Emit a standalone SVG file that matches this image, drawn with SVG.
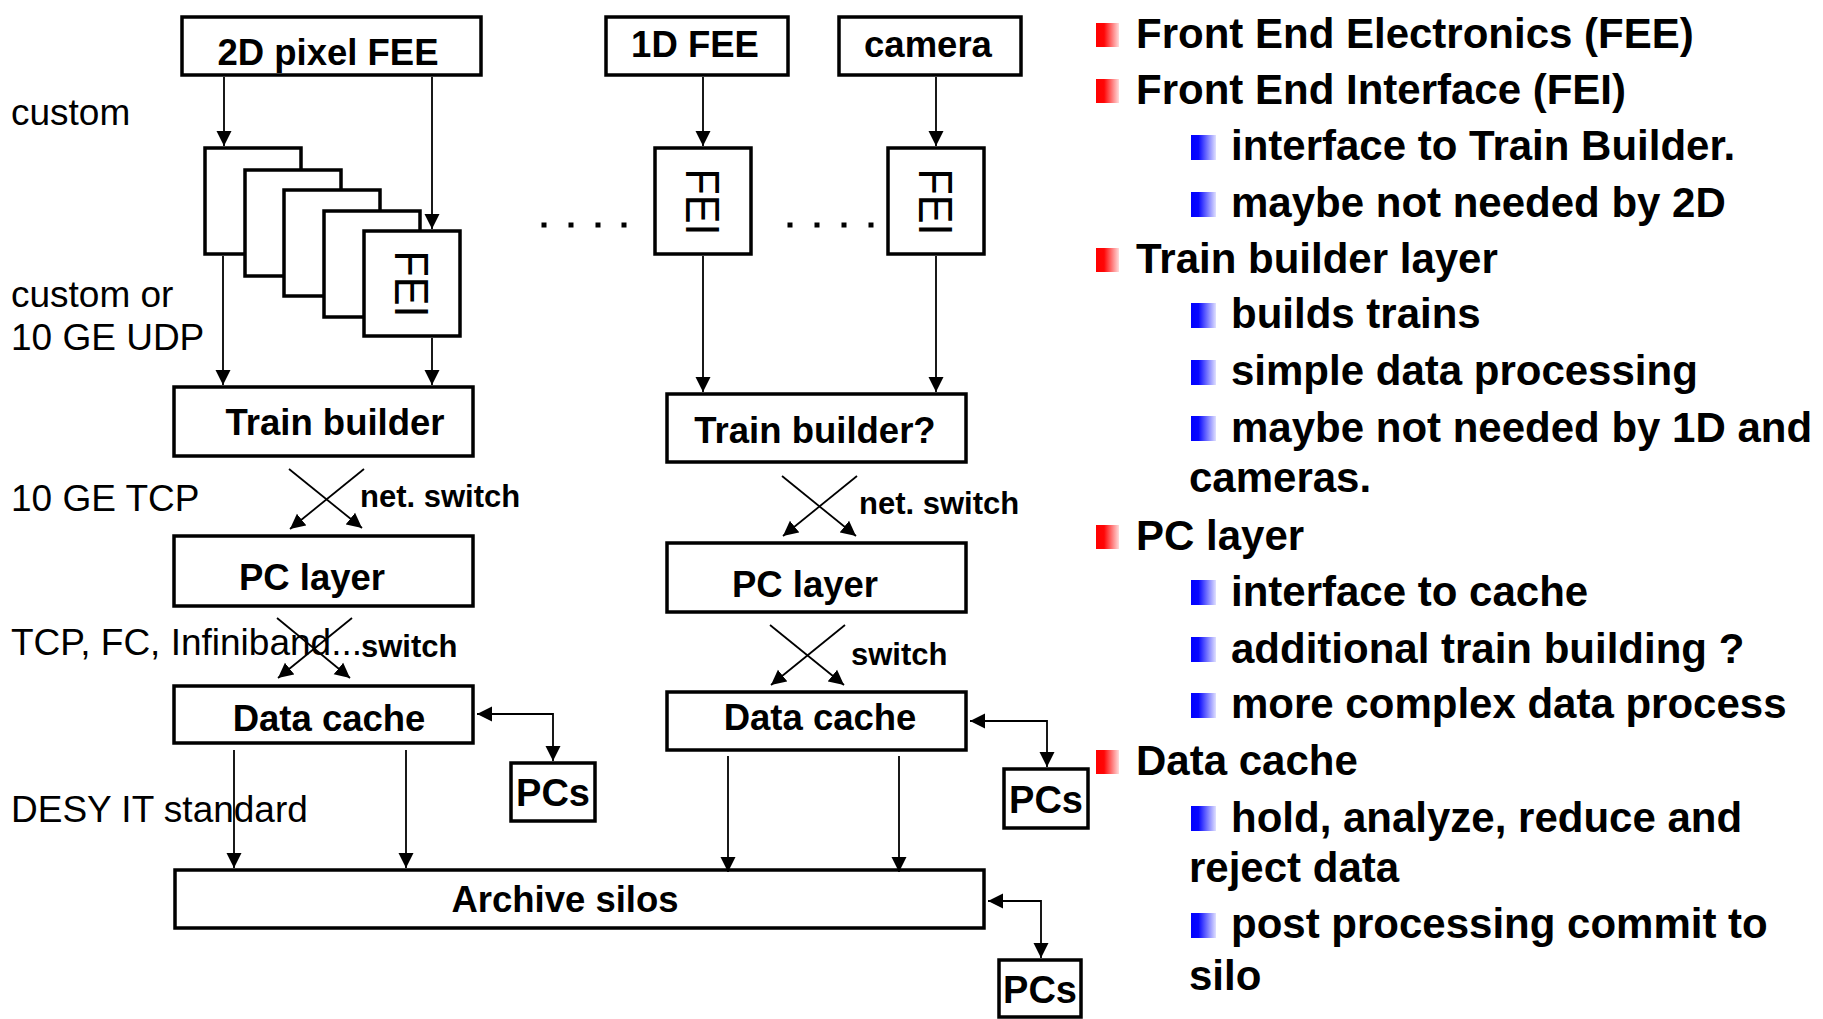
<svg xmlns="http://www.w3.org/2000/svg" width="1823" height="1019" viewBox="0 0 1823 1019">
  <defs>
    <style>
      .box { fill: #fff; stroke: #000; stroke-width: 3.5; }
      .wire { fill: none; stroke: #000; stroke-width: 1.8; }
      .lbl { font-family: "Liberation Sans", Arial, sans-serif; font-weight: bold; font-size: 36.5px; text-anchor: middle; fill: #000; }
      .pcs { font-family: "Liberation Sans", Arial, sans-serif; font-weight: bold; font-size: 38px; text-anchor: middle; fill: #000; }
      .fei { font-family: "Liberation Sans", Arial, sans-serif; font-size: 48px; text-anchor: middle; fill: #000; }
      .sw { font-family: "Liberation Sans", Arial, sans-serif; font-weight: bold; font-size: 31px; fill: #000; }
      .side { font-family: "Liberation Sans", Arial, sans-serif; font-size: 37px; fill: #000; }
      .note { font-family: "Liberation Sans", Arial, sans-serif; font-weight: bold; font-size: 42px; fill: #000; }
      .dot { fill: #000; }
    </style>
    <marker id="ah" viewBox="0 0 15 16" refX="15" refY="8" markerWidth="15" markerHeight="16" markerUnits="userSpaceOnUse" orient="auto-start-reverse">
      <path d="M0,0.5 L15,8 L0,15.5 z" fill="#000"/>
    </marker>
    <linearGradient id="redBullet" x1="0" y1="0" x2="1" y2="0">
      <stop offset="0" stop-color="#ff0000"/>
      <stop offset="0.35" stop-color="#ff0606"/>
      <stop offset="1" stop-color="#ffdcdc"/>
    </linearGradient>
    <linearGradient id="blueBullet" x1="0" y1="0" x2="1" y2="0">
      <stop offset="0" stop-color="#0000ff"/>
      <stop offset="0.3" stop-color="#0808ff"/>
      <stop offset="1" stop-color="#e0e0ff"/>
    </linearGradient>
  </defs>

  <rect x="0" y="0" width="1823" height="1019" fill="#fff"/>

  <!-- protocol labels on the left margin -->
  <g id="side-labels">
    <text class="side" x="11" y="125">custom</text>
    <text class="side" x="11" y="307">custom or</text>
    <text class="side" x="11" y="350">10 GE UDP</text>
    <text class="side" x="11" y="511">10 GE TCP</text>
    <text class="side" x="11" y="655">TCP, FC, Infiniband...</text>
    <text class="side" x="11" y="822">DESY IT standard</text>
  </g>

  <!-- sources -->
  <g id="fee-2d">
    <rect class="box" x="182" y="17" width="299" height="58"/>
    <text class="lbl" x="328" y="65">2D pixel FEE</text>
  </g>
  <g id="fee-1d">
    <rect class="box" x="606" y="17" width="182" height="58"/>
    <text class="lbl" x="695" y="57">1D FEE</text>
  </g>
  <g id="camera">
    <rect class="box" x="839" y="17" width="182" height="58"/>
    <text class="lbl" x="928" y="57">camera</text>
  </g>

  <!-- stacked front end interfaces for the 2D detector -->
  <g id="fei-2d">
    <rect class="box" x="205" y="148" width="96" height="106"/>
    <rect class="box" x="245" y="170" width="96" height="106"/>
    <rect class="box" x="284" y="190" width="96" height="106"/>
    <rect class="box" x="324" y="211" width="96" height="106"/>
    <rect class="box" x="364" y="231" width="96" height="105"/>
    <text class="fei" transform="translate(412,284) rotate(90)" x="0" y="17.2" textLength="67" lengthAdjust="spacingAndGlyphs">FEI</text>
  </g>
  <g id="fei-1d">
    <rect class="box" x="655" y="148" width="96" height="106"/>
    <text class="fei" transform="translate(703,202) rotate(90)" x="0" y="17.2" textLength="67" lengthAdjust="spacingAndGlyphs">FEI</text>
  </g>
  <g id="fei-camera">
    <rect class="box" x="888" y="148" width="96" height="106"/>
    <text class="fei" transform="translate(936,202) rotate(90)" x="0" y="17.2" textLength="67" lengthAdjust="spacingAndGlyphs">FEI</text>
  </g>

  <!-- ellipsis between the detector columns -->
  <g id="ellipsis">
    <rect class="dot" x="541.5" y="222.5" width="5" height="5"/>
    <rect class="dot" x="568.5" y="222.5" width="5" height="5"/>
    <rect class="dot" x="595.5" y="222.5" width="5" height="5"/>
    <rect class="dot" x="621.5" y="222.5" width="5" height="5"/>
    <rect class="dot" x="787.5" y="222.5" width="5" height="5"/>
    <rect class="dot" x="814.5" y="222.5" width="5" height="5"/>
    <rect class="dot" x="841.5" y="222.5" width="5" height="5"/>
    <rect class="dot" x="868.5" y="222.5" width="5" height="5"/>
  </g>

  <!-- train builders -->
  <g id="train-builder">
    <rect class="box" x="174" y="387" width="299" height="69"/>
    <text class="lbl" x="335" y="435">Train builder</text>
  </g>
  <g id="train-builder-q">
    <rect class="box" x="667" y="394" width="299" height="68"/>
    <text class="lbl" x="815" y="443">Train builder?</text>
  </g>

  <!-- PC layers -->
  <g id="pc-layer-left">
    <rect class="box" x="174" y="536" width="299" height="70"/>
    <text class="lbl" x="312" y="590">PC layer</text>
  </g>
  <g id="pc-layer-right">
    <rect class="box" x="667" y="543" width="299" height="69"/>
    <text class="lbl" x="805" y="597">PC layer</text>
  </g>

  <!-- data caches -->
  <g id="data-cache-left">
    <rect class="box" x="174" y="686" width="299" height="57"/>
    <text class="lbl" x="329" y="731">Data cache</text>
  </g>
  <g id="data-cache-right">
    <rect class="box" x="667" y="692" width="299" height="58"/>
    <text class="lbl" x="820" y="730">Data cache</text>
  </g>

  <!-- analysis PCs -->
  <g id="pcs-left">
    <rect class="box" x="511" y="763" width="84" height="58"/>
    <text class="pcs" x="553" y="806">PCs</text>
  </g>
  <g id="pcs-right">
    <rect class="box" x="1004" y="769" width="84" height="59"/>
    <text class="pcs" x="1046" y="813">PCs</text>
  </g>
  <g id="pcs-archive">
    <rect class="box" x="999" y="960" width="82" height="57"/>
    <text class="pcs" x="1040" y="1003">PCs</text>
  </g>

  <!-- archive -->
  <g id="archive-silos">
    <rect class="box" x="175" y="870" width="809" height="58"/>
    <text class="lbl" x="565" y="912">Archive silos</text>
  </g>

  <!-- connectors -->
  <g id="connectors" class="wire" marker-end="url(#ah)">
    <line x1="224" y1="77" x2="224" y2="146"/>
    <line x1="432" y1="77" x2="432" y2="229"/>
    <line x1="223" y1="256" x2="223" y2="385"/>
    <line x1="432" y1="338" x2="432" y2="385"/>
    <line x1="703" y1="77" x2="703" y2="146"/>
    <line x1="936" y1="77" x2="936" y2="146"/>
    <line x1="703" y1="256" x2="703" y2="392"/>
    <line x1="936" y1="256" x2="936" y2="392"/>
    <!-- network switches -->
    <line x1="289" y1="469" x2="362" y2="528"/>
    <line x1="364" y1="469" x2="290" y2="529"/>
    <line x1="277" y1="618" x2="350" y2="678"/>
    <line x1="352" y1="618" x2="278" y2="678"/>
    <line x1="782" y1="476" x2="856" y2="536"/>
    <line x1="857" y1="476" x2="783" y2="536"/>
    <line x1="770" y1="625" x2="844" y2="685"/>
    <line x1="845" y1="625" x2="771" y2="685"/>
    <!-- caches to archive -->
    <line x1="234" y1="750" x2="234" y2="868"/>
    <line x1="406" y1="750" x2="406" y2="868"/>
    <line x1="728" y1="756" x2="728" y2="872"/>
    <line x1="899" y1="756" x2="899" y2="872"/>
    <!-- two-way links to PCs -->
    <path d="M477,714 H553 V761" marker-start="url(#ah)"/>
    <path d="M970,721 H1047 V767" marker-start="url(#ah)"/>
    <path d="M988,901 H1041 V958" marker-start="url(#ah)"/>
  </g>

  <!-- switch labels -->
  <g id="switch-labels">
    <text class="sw" x="360" y="507">net. switch</text>
    <text class="sw" x="361" y="657">switch</text>
    <text class="sw" x="859" y="514">net. switch</text>
    <text class="sw" x="851" y="665">switch</text>
  </g>

  <!-- bullet list -->
  <g id="notes">
    <rect x="1096" y="23" width="23" height="24" fill="url(#redBullet)"/>
    <text class="note" x="1136" y="48">Front End Electronics (FEE)</text>
    <rect x="1096" y="79" width="23" height="24" fill="url(#redBullet)"/>
    <text class="note" x="1136" y="104">Front End Interface (FEI)</text>
    <rect x="1191" y="135" width="25" height="25" fill="url(#blueBullet)"/>
    <text class="note" x="1231" y="160">interface to Train Builder.</text>
    <rect x="1191" y="192" width="25" height="25" fill="url(#blueBullet)"/>
    <text class="note" x="1231" y="217">maybe not needed by 2D</text>
    <rect x="1096" y="248" width="23" height="24" fill="url(#redBullet)"/>
    <text class="note" x="1136" y="273">Train builder layer</text>
    <rect x="1191" y="303" width="25" height="25" fill="url(#blueBullet)"/>
    <text class="note" x="1231" y="328">builds trains</text>
    <rect x="1191" y="360" width="25" height="25" fill="url(#blueBullet)"/>
    <text class="note" x="1231" y="385">simple data processing</text>
    <rect x="1191" y="416" width="25" height="25" fill="url(#blueBullet)"/>
    <text class="note" x="1231" y="442">maybe not needed by 1D and</text>
    <text class="note" x="1189" y="492">cameras.</text>
    <rect x="1096" y="525" width="23" height="24" fill="url(#redBullet)"/>
    <text class="note" x="1136" y="550">PC layer</text>
    <rect x="1191" y="580" width="25" height="25" fill="url(#blueBullet)"/>
    <text class="note" x="1231" y="606">interface to cache</text>
    <rect x="1191" y="637" width="25" height="25" fill="url(#blueBullet)"/>
    <text class="note" x="1231" y="663">additional train building ?</text>
    <rect x="1191" y="693" width="25" height="25" fill="url(#blueBullet)"/>
    <text class="note" x="1231" y="718">more complex data process</text>
    <rect x="1096" y="750" width="23" height="24" fill="url(#redBullet)"/>
    <text class="note" x="1136" y="775">Data cache</text>
    <rect x="1191" y="806" width="25" height="25" fill="url(#blueBullet)"/>
    <text class="note" x="1231" y="832">hold, analyze, reduce and</text>
    <text class="note" x="1189" y="882">reject data</text>
    <rect x="1191" y="913" width="25" height="25" fill="url(#blueBullet)"/>
    <text class="note" x="1231" y="938">post processing commit to</text>
    <text class="note" x="1189" y="990">silo</text>
  </g>
</svg>
